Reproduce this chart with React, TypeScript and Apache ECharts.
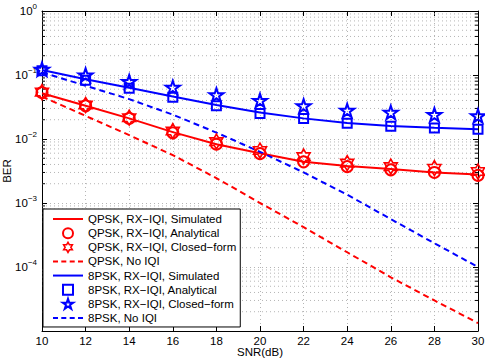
import React, { useEffect, useRef } from "react";
import * as echarts from "echarts";

const snr = [10, 12, 14, 16, 18, 20, 22, 24, 26, 28, 30];
const qpskSim = [0.052, 0.033, 0.021, 0.0128, 0.0083, 0.006, 0.0044, 0.0038, 0.0034, 0.003, 0.0028];
const qpskAna = [0.053, 0.033, 0.021, 0.0125, 0.0083, 0.0059, 0.0044, 0.0037, 0.0033, 0.003, 0.0027];
const qpskCF = [0.054, 0.034, 0.0215, 0.0133, 0.0091, 0.0066, 0.0053, 0.0042, 0.0037, 0.0035, 0.0031];
const qpskNoIQI = [0.046, 0.023, 0.0115, 0.0056, 0.00245, 0.001, 0.00042, 0.00017, 0.000069, 0.00003, 0.0000133];
const psk8Sim = [0.12, 0.086, 0.063, 0.046, 0.034, 0.026, 0.021, 0.0178, 0.016, 0.015, 0.0142];
const psk8Ana = [0.117, 0.083, 0.062, 0.045, 0.033, 0.025, 0.021, 0.0176, 0.0158, 0.0148, 0.0142];
const psk8CF = [0.123, 0.1, 0.079, 0.064, 0.049, 0.04, 0.033, 0.028, 0.026, 0.024, 0.023];
const psk8NoIQI = [0.11, 0.068, 0.042, 0.024, 0.0126, 0.0063, 0.003, 0.00135, 0.00056, 0.000235, 0.0001];

const seriesNames = [
  "QPSK, RX\u2212IQI, Simulated",
  "QPSK, RX\u2212IQI, Analytical",
  "QPSK, RX\u2212IQI, Closed\u2212form",
  "QPSK, No IQI",
  "8PSK, RX\u2212IQI, Simulated",
  "8PSK, RX\u2212IQI, Analytical",
  "8PSK, RX\u2212IQI, Closed\u2212form",
  "8PSK, No IQI",
];

const RED = "#ff0000";
const BLUE = "#0000ff";

const HEXAGRAM =
  "path://M50,0L64.43,25L93.3,25L78.87,50L93.3,75L64.43,75L50,100L35.57,75L6.7,75L21.13,50L6.7,25L35.57,25Z";
const PENTAGRAM =
  "path://M50,0L61.23,34.55L97.55,34.55L68.17,55.9L79.39,90.45L50,69.1L20.61,90.45L31.83,55.9L2.45,34.55L38.77,34.55Z";
const SQUARE = "path://M0,0H10V10H0Z";
const CIRCLE = "path://M0,5A5,5,0,1,1,10,5A5,5,0,1,1,0,5Z";
const SOLID_ICON = "path://M0,0H30V2H0Z";
const DASH_ICON = "path://M0,0H5V2H0Z M8.3,0H13.3V2H8.3Z M16.7,0H21.7V2H16.7Z M25,0H30V2H25Z";

function pairs(ys: number[]) {
  return snr.map((x, i) => [x, ys[i]]);
}

function minorValues() {
  const out: number[] = [];
  for (let k = -5; k < 0; k++) {
    for (let m = 2; m <= 9; m++) out.push(m * Math.pow(10, k));
  }
  return out;
}

export default function App() {
  const ref = useRef<HTMLDivElement>(null);
  useEffect(() => {
    const chart = echarts.init(ref.current!, undefined, { renderer: "svg" });
    const font = "Liberation Sans";
    const gridLine = { show: true, lineStyle: { color: "#b5b5b5", width: 1, type: [1, 3] as any } };
    const lineSeries = (name: string, data: number[], color: string, dashed: boolean) => ({
      name,
      type: "line",
      data: pairs(data),
      symbol: "none",
      color,
      lineStyle: { color, width: 2, type: dashed ? ([6, 4] as any) : "solid" },
      z: 3,
    });
    const markerSeries = (name: string, data: number[], color: string, symbol: string, size: number, bw: number) => ({
      name,
      type: "scatter",
      data: pairs(data),
      symbol,
      symbolSize: size,
      symbolKeepAspect: true,
      color,
      itemStyle: { color: "transparent", borderColor: color, borderWidth: bw, opacity: 1 },
      z: 4,
    });
    const option: any = {
      animation: false,
      textStyle: { fontFamily: font, fontSize: 11.5, color: "#000" },
      grid: { left: 42, top: 11, width: 436, height: 320, containLabel: false, outerBoundsMode: "none" },
      xAxis: [
        {
          type: "value",
          min: 10,
          max: 30,
          interval: 2,
          name: "SNR(dB)",
          nameLocation: "middle",
          nameGap: 15,
          nameMoveOverlap: false,
          nameTextStyle: { fontFamily: font, fontSize: 11.5, color: "#000" },
          axisLine: { show: true, lineStyle: { color: "#000", width: 1 } },
          axisTick: { show: true, inside: true, length: 5, lineStyle: { color: "#000" } },
          axisLabel: { margin: 4, fontFamily: font, fontSize: 11.5, color: "#000", hideOverlap: false },
          splitLine: gridLine,
        },
        {
          type: "value",
          position: "top",
          min: 10,
          max: 30,
          interval: 2,
          axisLine: { show: true, lineStyle: { color: "#000", width: 1 } },
          axisTick: { show: true, inside: true, length: 5, lineStyle: { color: "#000" } },
          axisLabel: { show: false },
          splitLine: { show: false },
        },
      ],
      yAxis: [
        {
          type: "log",
          logBase: 10,
          min: 1e-5,
          max: 1,
          splitNumber: 5,
          name: "BER",
          nameLocation: "middle",
          nameGap: 29,
          nameMoveOverlap: false,
          nameTextStyle: { fontFamily: font, fontSize: 11.5, color: "#000" },
          axisLine: { show: true, lineStyle: { color: "#000", width: 1 } },
          axisTick: { show: true, inside: true, length: 5, lineStyle: { color: "#000" } },
          axisLabel: {
            margin: 5,
            formatter: (v: number) => {
              const k = Math.round(Math.log10(v));
              if (k <= -5) return "";
              const e = k === 0 ? "0" : "\u2212" + String(-k);
              return "{b|10}{e|" + e + "}";
            },
            rich: {
              b: { fontFamily: font, fontSize: 11.5, color: "#000" },
              e: { fontFamily: font, fontSize: 8, color: "#000", padding: [0, 0, 10, 0] },
            },
          },
          splitLine: gridLine,
        },
        {
          type: "log",
          logBase: 10,
          position: "right",
          min: 1e-5,
          max: 1,
          splitNumber: 5,
          axisLine: { show: true, lineStyle: { color: "#000", width: 1 } },
          axisTick: { show: true, inside: true, length: 5, lineStyle: { color: "#000" } },
          axisLabel: { show: false },
          splitLine: { show: false },
        },
      ],
      legend: {
        orient: "vertical",
        left: 43,
        top: 209,
        padding: [4, 4, 3, 10],
        itemWidth: 30,
        itemHeight: 10,
        itemGap: 2.14,
        backgroundColor: "#fff",
        borderColor: "#000",
        borderWidth: 1,
        borderRadius: 0,
        symbolKeepAspect: true,
        textStyle: { fontFamily: font, fontSize: 11.5, color: "#000", lineHeight: 12 },
        data: [
          { name: seriesNames[0], icon: SOLID_ICON, itemStyle: { color: RED, borderWidth: 0 } },
          { name: seriesNames[1], icon: CIRCLE, itemStyle: { color: "transparent", borderColor: RED, borderWidth: 2 } },
          { name: seriesNames[2], icon: HEXAGRAM, itemStyle: { color: "transparent", borderColor: RED, borderWidth: 1.6 } },
          { name: seriesNames[3], icon: DASH_ICON, itemStyle: { color: RED, borderWidth: 0 } },
          { name: seriesNames[4], icon: SOLID_ICON, itemStyle: { color: BLUE, borderWidth: 0 } },
          { name: seriesNames[5], icon: SQUARE, itemStyle: { color: "transparent", borderColor: BLUE, borderWidth: 2 } },
          { name: seriesNames[6], icon: PENTAGRAM, itemStyle: { color: "transparent", borderColor: BLUE, borderWidth: 2 } },
          { name: seriesNames[7], icon: DASH_ICON, itemStyle: { color: BLUE, borderWidth: 0 } },
        ],
        selectedMode: false,
      },
      series: [
        {
          type: "custom",
          name: "minor",
          silent: true,
          z: 1,
          clip: false,
          data: minorValues().map((v) => [10, v]),
          renderItem: (_p: any, api: any) => {
            const v = api.value(1);
            const a = api.coord([10, v]);
            const b = api.coord([30, v]);
            const y = a[1];
            return {
              type: "group",
              children: [
                { type: "line", shape: { x1: a[0], y1: y, x2: b[0], y2: y }, style: { stroke: "#b5b5b5", lineWidth: 1, lineDash: [1, 3] } },
                { type: "line", shape: { x1: a[0], y1: y, x2: a[0] + 3, y2: y }, style: { stroke: "#000", lineWidth: 1 } },
                { type: "line", shape: { x1: b[0] - 3, y1: y, x2: b[0], y2: y }, style: { stroke: "#000", lineWidth: 1 } },
              ],
            };
          },
        },
        lineSeries(seriesNames[0], qpskSim, RED, false),
        markerSeries(seriesNames[1], qpskAna, RED, "circle", 11, 2),
        markerSeries(seriesNames[2], qpskCF, RED, HEXAGRAM, 15, 1.6),
        lineSeries(seriesNames[3], qpskNoIQI, RED, true),
        lineSeries(seriesNames[4], psk8Sim, BLUE, false),
        markerSeries(seriesNames[5], psk8Ana, BLUE, SQUARE, 9, 2),
        markerSeries(seriesNames[6], psk8CF, BLUE, PENTAGRAM, 14, 2),
        lineSeries(seriesNames[7], psk8NoIQI, BLUE, true),
      ],
    };
    chart.setOption(option);
    return () => chart.dispose();
  }, []);
  return (
    <div
      ref={ref}
      style={{ position: "fixed", left: 0, top: 0, width: 485, height: 361, background: "#fff" }}
    />
  );
}
